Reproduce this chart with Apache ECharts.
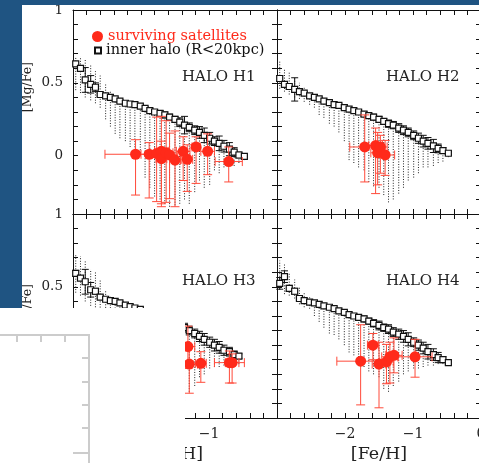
<!DOCTYPE html>
<html><head><meta charset="utf-8">
<script src="https://cdn.jsdelivr.net/npm/echarts@6/dist/echarts.min.js"></script>
<style>html,body{margin:0;padding:0;background:#fff}#c{width:479px;height:463px}</style>
</head><body><div id="c"></div>
<script>
// ---------- data ----------
const FE_BINS = [-2.96,-2.89,-2.82,-2.74,-2.67,-2.60,-2.52,-2.45,-2.38,-2.31,-2.23,-2.16,-2.09,-2.01,-1.94,-1.87,-1.80,-1.72,-1.65,-1.58,-1.50,-1.43,-1.36,-1.29,-1.21,-1.14,-1.07,-0.99,-0.92,-0.85,-0.78,-0.70,-0.63,-0.56,-0.48];

const H1_MEDIAN = [0.63,0.60,0.52,0.49,0.47,0.42,0.41,0.40,0.39,0.375,0.36,0.355,0.35,0.34,0.325,0.31,0.30,0.29,0.28,0.265,0.25,0.23,0.21,0.195,0.175,0.16,0.14,0.12,0.10,0.085,0.065,0.045,0.025,0.005,-0.005];
const H1_ERR    = [0,0,0.085,0.06,0.03,0.01,0.01,0.01,0.01,0.01,0.01,0.01,0.01,0.01,0.01,0.015,0.015,0.02,0.02,0.02,0.02,0.03,0.06,0.03,0.03,0.04,0.05,0.04,0.03,0.05,0.04,0.045,0.03,0.02,0.01];
const H1_DOT_LO = [0.45,0.43,0.40,0.38,0.36,0.33,0.25,0.20,0.15,0.12,0.10,0.06,0.04,0.02,-0.15,-0.22,-0.28,-0.30,-0.33,-0.35,-0.34,-0.33,-0.30,-0.33,-0.25,-0.17,-0.22,-0.20,-0.10,-0.12,-0.08,-0.06,-0.07,-0.05,-0.03];
const H1_DOT_HI = [0.68,0.68,0.66,0.62,0.58,0.55,0.50,0.45];

const H2_MEDIAN = [0.53,0.49,0.475,0.455,0.44,0.43,0.41,0.40,0.39,0.375,0.365,0.35,0.345,0.33,0.32,0.31,0.30,0.285,0.275,0.265,0.25,0.235,0.22,0.21,0.19,0.175,0.16,0.14,0.12,0.10,0.085,0.067,0.05,0.035,0.017];
const H2_ERR    = [0.02,0.01,0.01,0.08,0.01,0.01,0.01,0.01,0.01,0.01,0.01,0.01,0.01,0.01,0.01,0.01,0.015,0.015,0.015,0.02,0.02,0.02,0.025,0.025,0.03,0.03,0.03,0.03,0.035,0.04,0.04,0.045,0.03,0.02,0.01];
const H2_DOT_LO = [0.46,0.44,0.42,0.40,0.39,0.37,0.35,0.33,0.28,0.26,0.22,0.20,0.16,0.10,-0.03,-0.05,-0.08,-0.10,-0.18,-0.21,-0.22,-0.27,-0.32,-0.30,-0.26,-0.22,-0.17,-0.15,-0.12,-0.08,-0.08,-0.07,-0.05,-0.04,-0.01];
const H2_DOT_HI = [0.65,0.60,0.57,0.53,0.50,0.47,0.44,0.42];

const H3_MEDIAN = [0.593,0.56,0.535,0.48,0.47,0.43,0.415,0.405,0.40,0.39,0.375,0.365,0.355,0.345,0.33,0.32,0.31,0.295,0.28,0.27,0.255,0.235,0.22,0.20,0.18,0.16,0.14,0.12,0.10,0.085,0.065,0.055,0.035,0.025,null];
const H3_ERR    = [0.02,0.01,0.085,0.05,0.02,0.01,0.01,0.01,0.01,0.01,0.01,0.01,0.01,0.01,0.01,0.015,0.015,0.02,0.02,0.02,0.02,0.025,0.03,0.03,0.03,0.035,0.04,0.035,0.04,0.04,0.035,0.03,0.025,0.015,0];
const H3_DOT_LO = [0.46,0.44,0.40,0.37,0.36,0.34,0.32,0.30,0.28,0.25,0.20,0.15,0.10,0.05,0.0,-0.05,-0.10,-0.15,-0.20,-0.25,-0.28,-0.30,-0.28,-0.22,-0.18,-0.12,-0.10,-0.06,-0.05,-0.05,-0.04,-0.04,-0.03,-0.03,null];
const H3_DOT_HI = [0.72,0.71,0.68,0.62,0.60,0.55,0.48,0.44];

const H4_MEDIAN = [0.524,0.57,0.49,0.47,0.42,0.405,0.395,0.39,0.38,0.37,0.36,0.35,0.335,0.325,0.31,0.30,0.29,0.28,0.265,0.25,0.235,0.22,0.21,0.19,0.175,0.16,0.14,0.12,0.10,0.08,0.055,0.035,0.015,0.0,-0.02];
const H4_ERR    = [0.04,0.04,0.02,0.02,0.01,0.01,0.01,0.01,0.01,0.01,0.01,0.01,0.01,0.01,0.01,0.015,0.015,0.02,0.02,0.025,0.03,0.025,0.03,0.03,0.035,0.04,0.045,0.03,0.035,0.04,0.05,0.04,0.035,0.02,0.01];
const H4_DOT_LO = [0.48,0.45,0.44,0.42,0.38,0.36,0.35,0.30,0.26,0.22,0.18,0.17,0.14,0.10,0.05,0.03,0.00,-0.05,-0.08,-0.10,-0.12,-0.20,-0.22,-0.18,-0.15,-0.10,-0.08,-0.06,-0.06,-0.05,-0.04,-0.04,-0.03,-0.03,-0.03];
const H4_DOT_HI = [0.68,0.66,0.60,0.55,0.50,0.46,0.43,0.41];

const H1_SAT_FE   = [-2.08,-1.88,-1.77,-1.70,-1.70,-1.63,-1.58,-1.50,-1.38,-1.32,-1.19,-1.02,-0.71];
const H1_SAT_MG   = [0.01,0.01,0.015,0.03,-0.02,0.02,0.005,-0.03,0.03,-0.025,0.06,0.03,-0.04];
const H1_SAT_XERR = [0.45,0.12,0.10,0.10,0.08,0.10,0.12,0.08,0.10,0.08,0.06,0.10,0.20];
const H1_SAT_YUP  = [0.10,0.08,0.25,0.24,0.12,0.22,0.15,0.20,0.10,0.10,0.07,0.12,0.10];
const H1_SAT_YDN  = [0.28,0.30,0.33,0.36,0.33,0.34,0.30,0.32,0.20,0.22,0.25,0.16,0.14];

const H2_SAT_FE   = [-1.71,-1.55,-1.52,-1.48,-1.41];
const H2_SAT_MG   = [0.06,0.07,0.02,0.06,0.005];
const H2_SAT_XERR = [0.22,0.10,0.10,0.10,0.14];
const H2_SAT_YUP  = [0.22,0.12,0.14,0.08,0.10];
const H2_SAT_YDN  = [0.24,0.33,0.22,0.18,0.14];

const H3_SAT_FE   = [-1.31,-1.29,-1.12,-0.70,-0.66];
const H3_SAT_MG   = [0.09,-0.03,-0.025,-0.02,-0.02];
const H3_SAT_XERR = [0.10,0.12,0.08,0.22,0.10];
const H3_SAT_YUP  = [0.14,0.12,0.08,0.08,0.06];
const H3_SAT_YDN  = [0.15,0.20,0.13,0.14,0.14];

const H4_SAT_FE   = [-1.77,-1.59,-1.50,-1.39,-1.34,-1.28,-0.97];
const H4_SAT_MG   = [-0.01,0.10,-0.03,-0.015,0.02,0.03,0.02];
const H4_SAT_XERR = [0.35,0.08,0.10,0.10,0.12,0.12,0.25];
const H4_SAT_YUP  = [0.25,0.08,0.15,0.12,0.10,0.12,0.12];
const H4_SAT_YDN  = [0.30,0.10,0.30,0.15,0.18,0.12,0.14];

const PANEL_TITLES = ['HALO H1','HALO H2','HALO H3','HALO H4'];
const X_TICK_LABELS = ['−3','−2','−1','0'];
const Y_TICK_LABELS = ['0','0.5','1'];
const SAT_NAME = 'surviving satellites';
const HALO_NAME = 'inner halo (R<20kpc)';

// ---------- build ----------
const PANELS = [
  {med:H1_MEDIAN, err:H1_ERR, lo:H1_DOT_LO, hi:H1_DOT_HI, fe:H1_SAT_FE, mg:H1_SAT_MG, xe:H1_SAT_XERR, yu:H1_SAT_YUP, yd:H1_SAT_YDN},
  {med:H2_MEDIAN, err:H2_ERR, lo:H2_DOT_LO, hi:H2_DOT_HI, fe:H2_SAT_FE, mg:H2_SAT_MG, xe:H2_SAT_XERR, yu:H2_SAT_YUP, yd:H2_SAT_YDN},
  {med:H3_MEDIAN, err:H3_ERR, lo:H3_DOT_LO, hi:H3_DOT_HI, fe:H3_SAT_FE, mg:H3_SAT_MG, xe:H3_SAT_XERR, yu:H3_SAT_YUP, yd:H3_SAT_YDN},
  {med:H4_MEDIAN, err:H4_ERR, lo:H4_DOT_LO, hi:H4_DOT_HI, fe:H4_SAT_FE, mg:H4_SAT_MG, xe:H4_SAT_XERR, yu:H4_SAT_YUP, yd:H4_SAT_YDN}
];
const GRID_POS = [[73,10],[277,10],[73,214],[277,214]];
const SERIF = 'DejaVu Serif';
const INK = '#111';
const RED = '#ff2a1a';
const RED_BAR = '#ff4a3a';

function near(a,b){return Math.abs(a-b)<1e-6;}

const grid = [], xAxis = [], yAxis = [], series = [], title = [];
PANELS.forEach((p, g) => {
  grid.push({left:GRID_POS[g][0], top:GRID_POS[g][1], width:204, height:204,
    containLabel:false, outerBoundsMode:'none'});
  const bottomRow = g >= 2, leftCol = g % 2 === 0;
  const axLine = {show:true, onZero:false, lineStyle:{color:INK, width:1}};
  const axTick = {show:true, inside:true, length:5, lineStyle:{color:INK, width:1}};
  xAxis.push({type:'value', gridIndex:g, position:'bottom', min:-3, max:0, interval:0.2,
    axisLine:axLine, axisTick:axTick, splitLine:{show:false},
    axisLabel:{show:bottomRow, margin:9, color:'#222', fontFamily:SERIF, fontSize:14,
      showMinLabel:true, showMaxLabel:true, hideOverlap:false,
      formatter:v => {
        for (let k=0;k<4;k++){ if (near(v,-3+k)) {
          if (g===2 && k===3) return ''; if (g===3 && k===0) return '';
          return X_TICK_LABELS[k]; } }
        return '';
      }},
    name: bottomRow ? '[Fe/H]' : '', nameLocation:'middle', nameGap:27,
    nameTextStyle:{fontFamily:SERIF, fontSize:17.5, color:'#222'}});
  xAxis.push({type:'value', gridIndex:g, position:'top', min:-3, max:0, interval:0.2,
    axisLine:axLine, axisTick:axTick, splitLine:{show:false}, axisLabel:{show:false}});
  yAxis.push({type:'value', gridIndex:g, position:'left', min:-0.4, max:1, interval:0.1,
    axisLine:axLine, axisTick:axTick, splitLine:{show:false},
    axisLabel:{show:leftCol, margin:10, color:'#222', fontFamily:SERIF, fontSize:13.5,
      showMinLabel:true, showMaxLabel:true, hideOverlap:false,
      formatter:v => near(v,0)?Y_TICK_LABELS[0]:near(v,0.5)?Y_TICK_LABELS[1]:near(v,1)?Y_TICK_LABELS[2]:''}});
  yAxis.push({type:'value', gridIndex:g, position:'right', min:-0.4, max:1, interval:0.1,
    axisLine:axLine, axisTick:axTick, splitLine:{show:false}, axisLabel:{show:false}});

  const xi = 2*g, yi = 2*g;
  // dotted spread lines
  const dots = [];
  FE_BINS.forEach((x,i) => {
    if (p.lo[i] == null || p.med[i] == null) return;
    const top = (p.hi[i] != null) ? p.hi[i] : p.med[i];
    dots.push([x, p.lo[i], top]);
  });
  series.push({type:'custom', name:'spread'+g, xAxisIndex:xi, yAxisIndex:yi, z:1, silent:true,
    data:dots,
    renderItem:(params, api) => {
      const a = api.coord([api.value(0), api.value(1)]), b = api.coord([api.value(0), api.value(2)]);
      return {type:'line', shape:{x1:a[0],y1:a[1],x2:b[0],y2:b[1]},
        style:{stroke:'#222', lineWidth:1, lineDash:[1,1.6]}};
    }});
  // square error bars
  const errs = [];
  FE_BINS.forEach((x,i) => { if (p.med[i] != null && p.err[i] > 0) errs.push([x, p.med[i], p.err[i]]); });
  series.push({type:'custom', name:'halo err'+g, xAxisIndex:xi, yAxisIndex:yi, z:2, silent:true,
    data:errs,
    renderItem:(params, api) => {
      const x = api.value(0), y = api.value(1), e = api.value(2);
      const a = api.coord([x, y+e]), b = api.coord([x, y-e]); const w = 3.5;
      const st = {stroke:INK, lineWidth:1};
      return {type:'group', children:[
        {type:'line', shape:{x1:a[0],y1:a[1],x2:b[0],y2:b[1]}, style:st},
        {type:'line', shape:{x1:a[0]-w,y1:a[1],x2:a[0]+w,y2:a[1]}, style:st},
        {type:'line', shape:{x1:b[0]-w,y1:b[1],x2:b[0]+w,y2:b[1]}, style:st}]};
    }});
  // squares
  series.push({type:'scatter', name:HALO_NAME, xAxisIndex:xi, yAxisIndex:yi, z:3, silent:true,
    symbol:'rect', symbolSize:6,
    itemStyle:{color:'#fff', borderColor:INK, borderWidth:1.2, opacity:1},
    data:FE_BINS.map((x,i) => [x, p.med[i]]).filter(d => d[1] != null)});
  // satellite error bars
  series.push({type:'custom', name:'sat err'+g, xAxisIndex:xi, yAxisIndex:yi, z:4, silent:true,
    data:p.fe.map((x,i) => [x, p.mg[i], p.xe[i], p.yu[i], p.yd[i]]),
    renderItem:(params, api) => {
      const x = api.value(0), y = api.value(1), xe = api.value(2), yu = api.value(3), yd = api.value(4);
      const l = api.coord([x-xe, y]), r = api.coord([x+xe, y]);
      const t = api.coord([x, y+yu]), b = api.coord([x, y-yd]); const w = 4.5;
      const st = {stroke:RED_BAR, lineWidth:1};
      return {type:'group', children:[
        {type:'line', shape:{x1:l[0],y1:l[1],x2:r[0],y2:r[1]}, style:st},
        {type:'line', shape:{x1:l[0],y1:l[1]-w,x2:l[0],y2:l[1]+w}, style:st},
        {type:'line', shape:{x1:r[0],y1:r[1]-w,x2:r[0],y2:r[1]+w}, style:st},
        {type:'line', shape:{x1:t[0],y1:t[1],x2:b[0],y2:b[1]}, style:st},
        {type:'line', shape:{x1:t[0]-w,y1:t[1],x2:t[0]+w,y2:t[1]}, style:st},
        {type:'line', shape:{x1:b[0]-w,y1:b[1],x2:b[0]+w,y2:b[1]}, style:st}]};
    }});
  // satellites
  series.push({type:'scatter', name:SAT_NAME, xAxisIndex:xi, yAxisIndex:yi, z:5, silent:true,
    symbol:'circle', symbolSize:11, itemStyle:{color:RED, opacity:1},
    data:p.fe.map((x,i) => [x, p.mg[i]])});

  title.push({text:PANEL_TITLES[g], padding:0,
    left: GRID_POS[g][0] + 109, top: GRID_POS[g][1] + 60,
    textStyle:{fontFamily:SERIF, fontSize:15, fontWeight:'normal', color:'#222'}});
});

const option = {
  animation:false,
  backgroundColor:'#fff',
  title,
  legend:[
    {data:[{name:SAT_NAME, icon:'circle', textStyle:{color:RED}}], left:92, top:29, itemWidth:11, itemHeight:11,
     selectedMode:false, padding:0, textStyle:{fontFamily:SERIF, fontSize:14.5}},
    {data:[{name:HALO_NAME, icon:'rect', textStyle:{color:'#111'}}], left:94, top:43, itemWidth:6, itemHeight:6,
     selectedMode:false, padding:0, textStyle:{fontFamily:SERIF, fontSize:14.5}}
  ],
  grid, xAxis, yAxis, series,
  graphic:[
    {type:'text', left:21, top:62, rotation:Math.PI/2, z:50,
     style:{text:'[Mg/Fe]', font:'12.5px "DejaVu Serif"', fill:'#222'}},
    {type:'text', left:21, top:284, rotation:Math.PI/2, z:50,
     style:{text:'[Mg/Fe]', font:'12.5px "DejaVu Serif"', fill:'#222'}},
    {type:'rect', shape:{x:0,y:0,width:479,height:5}, style:{fill:'#1f5482'}, z:100, silent:true},
    {type:'rect', shape:{x:0,y:0,width:22,height:308}, style:{fill:'#1f5482'}, z:100, silent:true},
    {type:'rect', shape:{x:0,y:308,width:185,height:155}, style:{fill:'#ffffff'}, z:100, silent:true},
    {type:'polyline', shape:{points:[[0,335],[89,335],[89,463]]}, style:{stroke:'#cccccc', lineWidth:2, fill:null}, z:101, silent:true},
    {type:'line', shape:{x1:17,y1:335,x2:17,y2:342}, style:{stroke:'#cccccc', lineWidth:2}, z:101, silent:true},
    {type:'line', shape:{x1:41,y1:335,x2:41,y2:342}, style:{stroke:'#cccccc', lineWidth:2}, z:101, silent:true},
    {type:'line', shape:{x1:65,y1:335,x2:65,y2:342}, style:{stroke:'#cccccc', lineWidth:2}, z:101, silent:true},
    {type:'line', shape:{x1:82,y1:358,x2:89,y2:358}, style:{stroke:'#cccccc', lineWidth:2}, z:101, silent:true},
    {type:'line', shape:{x1:82,y1:382,x2:89,y2:382}, style:{stroke:'#cccccc', lineWidth:2}, z:101, silent:true},
    {type:'line', shape:{x1:82,y1:405,x2:89,y2:405}, style:{stroke:'#cccccc', lineWidth:2}, z:101, silent:true},
    {type:'line', shape:{x1:82,y1:428,x2:89,y2:428}, style:{stroke:'#cccccc', lineWidth:2}, z:101, silent:true},
    {type:'line', shape:{x1:73,y1:453,x2:89,y2:453}, style:{stroke:'#cccccc', lineWidth:2}, z:101, silent:true}
  ]
};
const chart = echarts.init(document.getElementById('c'), null, {renderer:'canvas'});
chart.setOption(option);
</script></body></html>
